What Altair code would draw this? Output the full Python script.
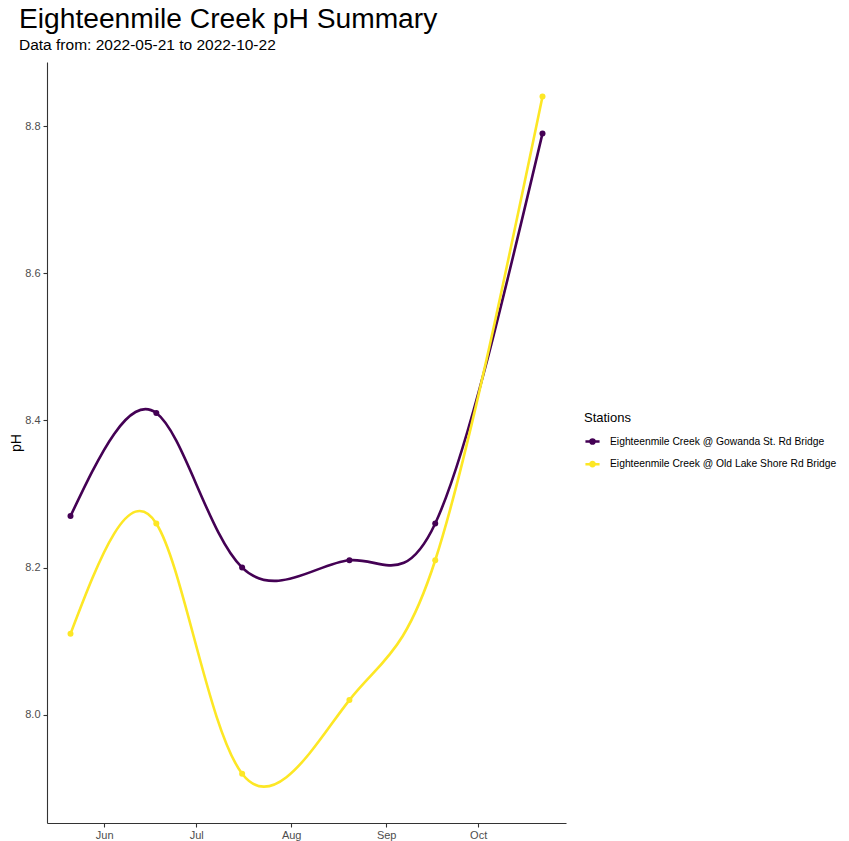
import altair as alt
import pandas as pd

dates = ["2022-05-21", "2022-06-18", "2022-07-16", "2022-08-20", "2022-09-17", "2022-10-22"]
stations = ["Eighteenmile Creek @ Gowanda St. Rd Bridge", "Eighteenmile Creek @ Old Lake Shore Rd Bridge"]
ph_gowanda = [8.27, 8.41, 8.20, 8.21, 8.26, 8.79]
ph_oldlake = [8.11, 8.26, 7.92, 8.02, 8.21, 8.84]
colors = ["#440154", "#FDE725"]
y_ticks = [8.0, 8.2, 8.4, 8.6, 8.8]

rows = []
for s, vals in zip(stations, [ph_gowanda, ph_oldlake]):
    for d, v in zip(dates, vals):
        rows.append({"date": d, "station": s, "ph": v})
df = pd.DataFrame(rows)

x_enc = alt.X("date:T", title=None,
              scale=alt.Scale(domain=["2022-05-13T08:00:00", "2022-10-29T16:00:00"]),
              axis=alt.Axis(format="%b", tickCount={"interval": "month", "step": 1},
                            labelColor="#4d4d4d", labelFontSize=11, labelFont="Liberation Sans",
                            domainColor="#333333", tickColor="#333333", tickSize=4,
                            domainWidth=1.1, tickWidth=1.1, grid=False, labelPadding=2))
y_enc = alt.Y("ph:Q", title="pH",
              scale=alt.Scale(domain=[7.853, 8.887], nice=False, zero=False),
              axis=alt.Axis(values=y_ticks, format=".1f", labelColor="#4d4d4d",
                            labelFontSize=11, labelFont="Liberation Sans",
                            titleFontSize=14, titleFont="Liberation Sans", titleFontWeight="normal",
                            titleColor="black", titlePadding=1,
                            domainColor="#333333", tickColor="#333333", tickSize=4,
                            domainWidth=1.1, tickWidth=1.1, grid=False, labelPadding=3))
color_enc = alt.Color("station:N", title="Stations",
                      scale=alt.Scale(domain=stations, range=colors),
                      legend=alt.Legend(orient="none", legendX=537, legendY=350,
                                        titleFontSize=13, titleFont="Liberation Sans",
                                        titleFontWeight="normal", titleColor="black",
                                        labelFontSize=10.3, labelFont="Liberation Sans",
                                        labelColor="black", titlePadding=8, labelLimit=400,
                                        symbolType="M-1,0H1M-0.3,0A0.3,0.3 0 1,1 0.3,0A0.3,0.3 0 1,1 -0.3,0Z",
                                        symbolSize=200, symbolStrokeWidth=2.5, rowPadding=6.7, labelOffset=9))

base = alt.Chart(df)
lines = base.mark_line(interpolate="natural", strokeWidth=2.6).encode(x=x_enc, y=y_enc, color=color_enc)
points = base.mark_point(filled=True, size=36, opacity=1).encode(x=x_enc, y=y_enc, color=color_enc)

chart = (lines + points).properties(
    width=519, height=761,
    title=alt.Title("Eighteenmile Creek pH Summary",
                    subtitle="Data from: 2022-05-21 to 2022-10-22",
                    anchor="start", frame="group", dx=-28, offset=8,
                    fontSize=28.2, font="Liberation Sans", fontWeight="normal", color="black",
                    subtitleFontSize=15.5, subtitleFont="Liberation Sans", subtitleColor="black",
                    subtitlePadding=3),
    autosize=alt.AutoSizeParams(type="none"),
    padding={"left": 39, "top": 54, "right": 275, "bottom": 18},
).configure_view(stroke=None)

chart.save("out.html", embed_options={"renderer": "svg", "actions": False})
